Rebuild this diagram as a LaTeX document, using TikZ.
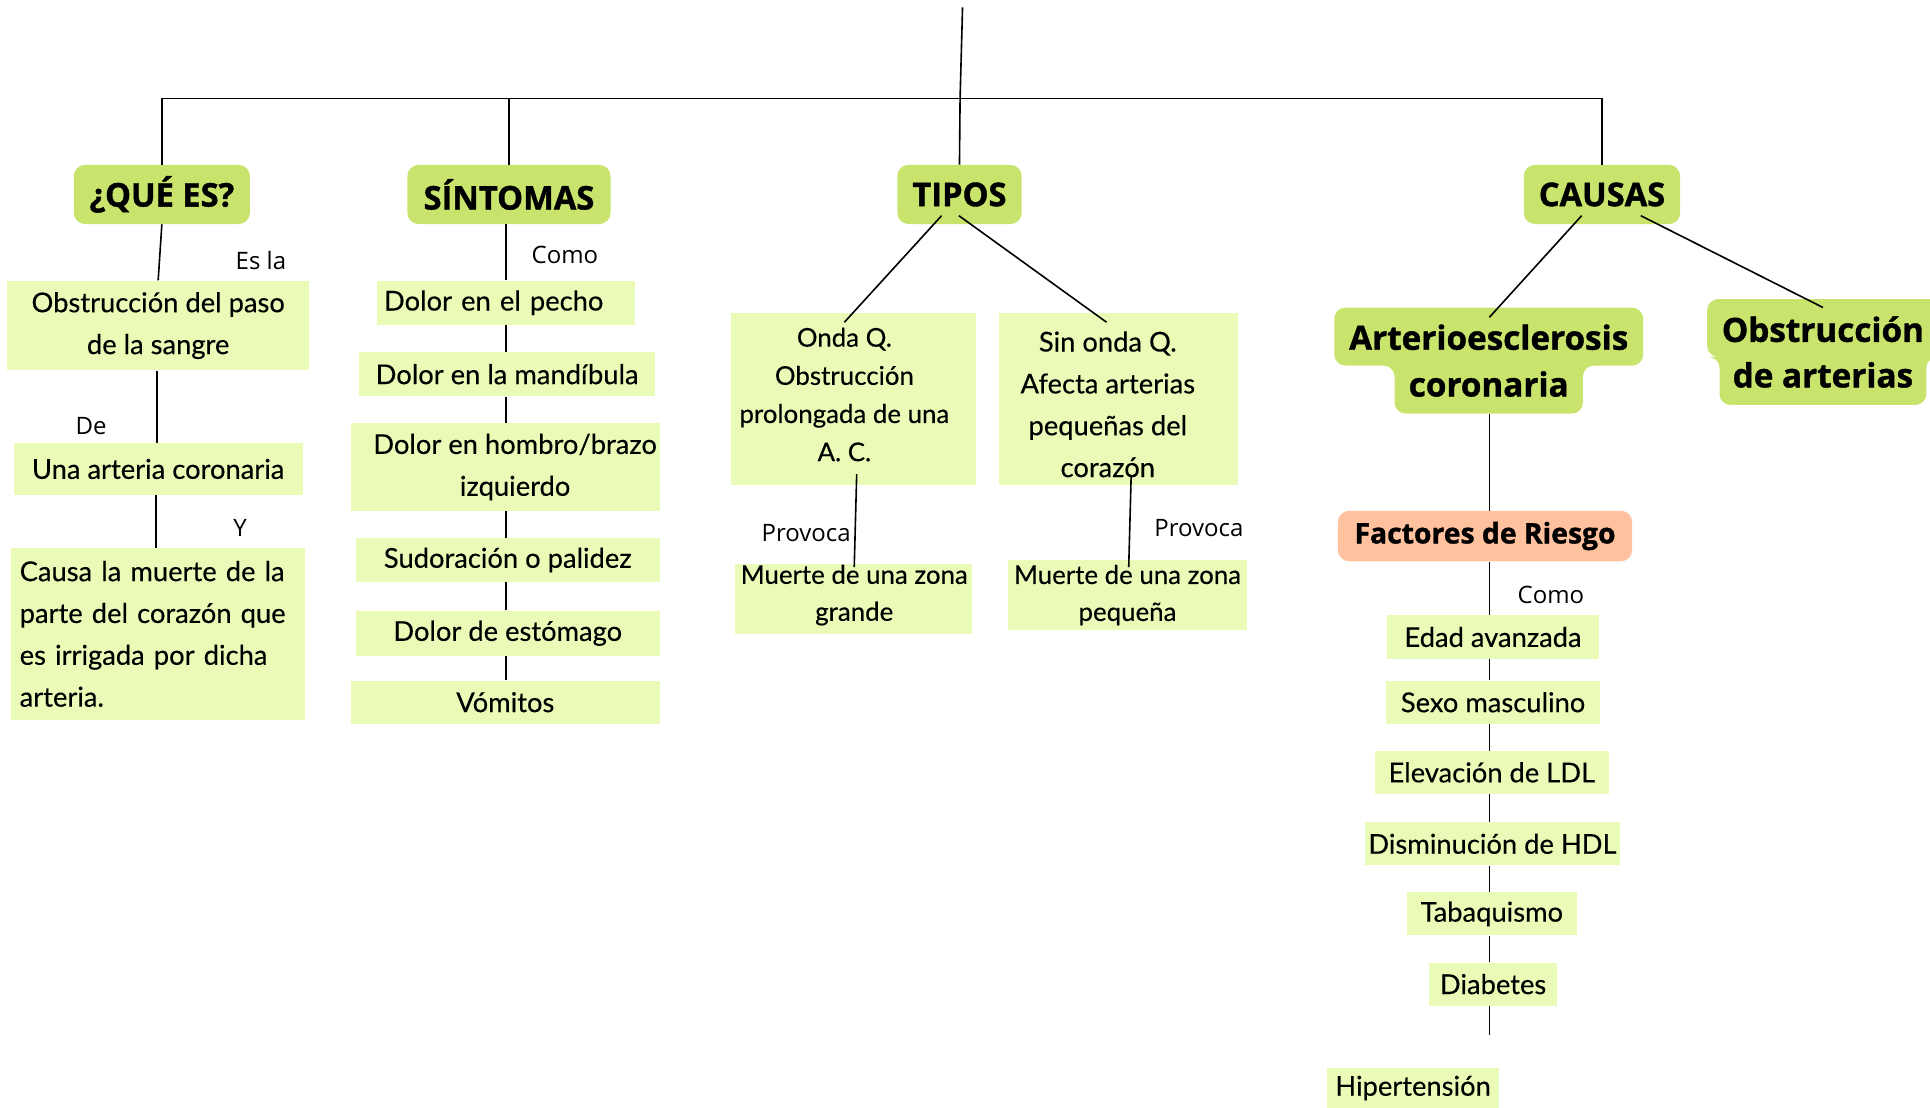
\documentclass[tikz,border=0pt]{standalone}
\usepackage{fontspec}
\setmainfont{Lato}[FakeBold=0.3]
\newfontfamily\opensans{Open Sans}
\newfontfamily\opensansheavy{Open Sans}[BoldFeatures={FakeBold=1.2}]
\definecolor{headgreen}{RGB}{200,228,108}
\definecolor{boxgreen}{RGB}{234,251,183}
\definecolor{riskpeach}{RGB}{255,193,158}

\begin{document}
\begin{tikzpicture}[x=1pt,y=-1pt,
  header/.style={fill=headgreen, rounded corners=9pt, inner sep=0pt,
    font=\opensansheavy\bfseries\fontsize{26.5}{30}\selectfont},
  leaf/.style={fill=boxgreen, inner sep=0pt, align=center,
    font=\fontsize{22.2}{34}\selectfont},
  leaftext/.style={inner sep=0pt, align=center, font=\fontsize{22.2}{34}\selectfont},
  linkword/.style={inner sep=0pt, font=\opensans\fontsize{19.5}{22}\selectfont},
  bigcause/.style={inner sep=0pt, align=center,
    font=\opensansheavy\bfseries\fontsize{27}{38}\selectfont},
  link/.style={draw=black, line width=1.3pt}
]
\useasboundingbox (0,0) rectangle (1568,900);

% ---------- main headers ----------
\node[header, minimum width=143pt, minimum height=48pt] (qe)     at (131.5,158) {¿QUÉ ES?};
\node[header, minimum width=165pt, minimum height=48pt] (sint)   at (413.5,158) {SÍNTOMAS};
\node[header, minimum width=101pt, minimum height=48pt] (tipos)  at (779.5,158) {TIPOS};
\node[header, minimum width=127pt, minimum height=48pt] (causas) at (1301.5,158) {CAUSAS};

% ---------- ¿qué es? ----------
\node[leaf, minimum width=245pt, minimum height=73pt] (ob) at (128.5,264.5) {Obstrucción del paso\\de la sangre};
\node[leaf, minimum width=235pt, minimum height=42pt] (una) at (128.5,381) {Una arteria coronaria};
\node[leaf, align=left, text width=225pt, inner xsep=7pt, minimum height=140pt] (causa) at (128.5,515)
  {Causa la muerte de la\\parte del corazón que\\es irrigada por dicha\\arteria.};
\node[linkword] (esla) at (212,212) {Es la};
\node[linkword] (de)   at (74,346) {De};
\node[linkword] (yy)   at (195,429) {Y};

% ---------- síntomas ----------
\node[leaf, align=left, text width=198pt, inner xsep=6pt, minimum height=36pt] (s1) at (411,246) {Dolor en el pecho};
\node[leaf, minimum width=240pt, minimum height=36pt] (s2) at (412,304) {Dolor en la mandíbula};
\node[leaf, minimum width=251pt, minimum height=71pt] (s3) at (410.5,379.5) {\hspace*{16pt}Dolor en hombro/brazo\\\hspace*{16pt}izquierdo};
\node[leaf, minimum width=247pt, minimum height=36pt] (s4) at (412.5,455) {Sudoración o palidez};
\node[leaf, minimum width=247pt, minimum height=37pt] (s5) at (412.5,514.5) {Dolor de estómago};
\node[leaf, minimum width=251pt, minimum height=35pt] (s6) at (410.5,570.5) {Vómitos};
\node[linkword] (como1) at (459,207) {Como};

% ---------- tipos ----------
\node[leaf, minimum width=199pt, minimum height=140pt] (onda) at (693.5,324) {};
\node[leaftext, font=\fontsize{21}{31}\selectfont] (ondatext) at (686,320.5)
  {Onda Q.\\Obstrucción\\prolongada de una\\A. C.};
\node[leaf, minimum width=194pt, minimum height=140pt] (sin) at (909,324) {};
\node[leaftext] (sintext) at (900,328.5)
  {Sin onda Q.\\Afecta arterias\\pequeñas del\\corazón};
\node[leaf, minimum width=193pt, minimum height=57pt] (muerteA) at (693.5,486.5) {};
\node[leaftext, font=\fontsize{21}{30}\selectfont] (muerteAtext) at (694,483.5)
  {Muerte de una zona\\grande};
\node[leaf, minimum width=194pt, minimum height=57pt, font=\fontsize{21}{30}\selectfont] (muerteB) at (916,483.5)
  {Muerte de una zona\\pequeña};
\node[linkword] (prov1) at (655,433) {Provoca};
\node[linkword] (prov2) at (974,429) {Provoca};

% ---------- causas ----------
\fill[headgreen, rounded corners=9pt] (1084,250) -- (1335,250) -- (1335,297) -- (1286,297)
  -- (1286,336) -- (1133,336) -- (1133,297) -- (1084,297) -- cycle;
\node[bigcause, minimum width=251pt, minimum height=86pt] (arterio) at (1209.5,293) {Arterioesclerosis\\coronaria};
\fill[headgreen, rounded corners=9pt] (1387,243) -- (1580,243) -- (1580,290) -- (1565,290)
  -- (1565,329) -- (1397,329) -- (1397,290) -- (1387,290) -- cycle;
\node[bigcause, minimum width=178pt, minimum height=86pt, font=\opensansheavy\bfseries\fontsize{27}{37}\selectfont] (obs) at (1481,286) {Obstrucción\\de arterias};

\node[fill=riskpeach, rounded corners=9pt, minimum width=239pt, minimum height=41pt, inner sep=0pt,
  font=\opensansheavy\bfseries\fontsize{23}{26}\selectfont] (factores) at (1206.5,435.5) {Factores de Riesgo};
\node[linkword] (como2) at (1260,483) {Como};

\node[leaf, minimum width=172pt, minimum height=35pt] (edad)  at (1213,517.5) {Edad avanzada};
\node[leaf, minimum width=174pt, minimum height=35pt] (sexo)  at (1213,570.5) {Sexo masculino};
\node[leaf, minimum width=190pt, minimum height=35pt] (ldl)   at (1212,627.5) {Elevación de LDL};
\node[leaf, minimum width=207pt, minimum height=35pt] (hdl)   at (1212.5,685.5) {Disminución de HDL};
\node[leaf, minimum width=138pt, minimum height=35pt] (taba)  at (1212,742.5) {Tabaquismo};
\node[leaf, minimum width=104pt, minimum height=35pt] (diab)  at (1213,799.5) {Diabetes};
\node[leaf, minimum width=140pt, minimum height=32pt] (hiper) at (1148,884) {Hipertensión};

% ---------- connectors ----------
\coordinate (apex) at (782,6);
\coordinate (hub) at (780,80);
\draw[link] (apex) -- (hub) -- (tipos.north);
\draw[link] (qe.north) |- (hub) -| (causas.north);
\draw[link] (sint.north) -- (sint.north |- hub);

\draw[link] (qe.south) -- (ob.north);
\draw[link] ([xshift=-1pt]ob.south) -- ([xshift=-1pt]una.north);
\draw[link] ([xshift=-2pt]una.south) -- ([xshift=-2pt]causa.north);

\coordinate (sspine) at (411,0);
\draw[link] (sint.south -| sspine) -- (s1.north -| sspine);
\foreach \a/\b in {s1/s2, s2/s3, s3/s4, s4/s5, s5/s6}
  \draw[link] (\a.south -| sspine) -- (\b.north -| sspine);

\draw[link] ([xshift=-14.5pt,yshift=7pt]tipos.south) -- ([xshift=-7.5pt,yshift=-8pt]onda.north);
\draw[link] ([xshift=-0.5pt,yshift=7pt]tipos.south) -- ([xshift=-10pt,yshift=-8pt]sin.north);
\draw[link] ([xshift=2.5pt,yshift=9pt]onda.south) -- ([xshift=0.5pt,yshift=-3pt]muerteA.north);
\draw[link] ([xshift=10pt,yshift=8pt]sin.south) -- ([xshift=1pt,yshift=-6pt]muerteB.north);

\draw[link] ([xshift=-16.5pt,yshift=7pt]causas.south) -- ([xshift=0.5pt,yshift=-8pt]arterio.north);
\draw[link] ([xshift=31.5pt,yshift=7pt]causas.south) -- ([yshift=-7pt]obs.north);

\coordinate (rspine) at (1210,0);
\coordinate (rend) at (1210,841);
\draw[link] (arterio.south -| rspine) -- (factores.north -| rspine);
\draw[link] (factores.south -| rspine) -- (edad.north -| rspine);
\foreach \a/\b in {edad/sexo, sexo/ldl, ldl/hdl, hdl/taba, taba/diab}
  \draw[link] (\a.south -| rspine) -- (\b.north -| rspine);
\draw[link] (diab.south -| rspine) -- (rend);
\end{tikzpicture}
\end{document}
